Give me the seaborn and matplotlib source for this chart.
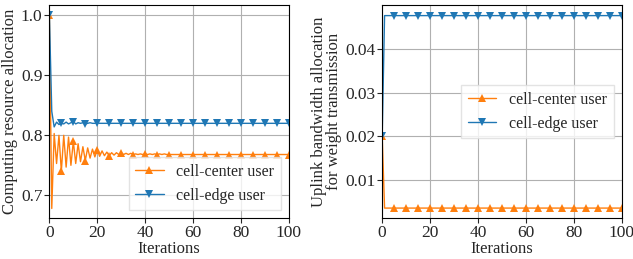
import numpy as np
import pandas as pd
import matplotlib
matplotlib.use("Agg")
import matplotlib.pyplot as plt
import seaborn as sns

sns.set_style("ticks")
plt.rcParams['font.family'] = ['Liberation Serif', 'DejaVu Serif']
plt.rcParams['font.size'] = 12
plt.rcParams['mathtext.fontset'] = 'stix'

iterations = list(range(101))

# computing resource allocation
comp_center = [1.0, 0.678, 0.803, 0.753, 0.800, 0.740, 0.800, 0.747, 0.797, 0.750,
               0.790, 0.753, 0.786, 0.756, 0.781, 0.758, 0.779, 0.762, 0.777, 0.764,
               0.776, 0.765, 0.774, 0.766, 0.772, 0.766, 0.771, 0.767, 0.771, 0.768,
               0.771, 0.768, 0.770, 0.768, 0.770, 0.768, 0.769, 0.768, 0.769, 0.768,
               0.769, 0.768, 0.769, 0.768, 0.769, 0.768, 0.769, 0.768, 0.769, 0.768,
               0.768, 0.768, 0.768, 0.768, 0.768, 0.768, 0.768, 0.768, 0.768, 0.768,
               0.768, 0.768, 0.768, 0.768, 0.768, 0.768, 0.768, 0.768, 0.768, 0.768,
               0.768, 0.768, 0.768, 0.768, 0.768, 0.768, 0.768, 0.768, 0.768, 0.768,
               0.768, 0.768, 0.768, 0.768, 0.768, 0.768, 0.768, 0.768, 0.768, 0.768,
               0.768, 0.768, 0.768, 0.768, 0.768, 0.768, 0.768, 0.768, 0.768, 0.768,
               0.768]
comp_edge = [1.0, 0.840, 0.814, 0.822, 0.818, 0.820, 0.819, 0.822, 0.819, 0.821,
             0.823, 0.819, 0.821, 0.820, 0.821, 0.819, 0.820, 0.821, 0.820, 0.820,
             0.821, 0.820, 0.820, 0.820, 0.820, 0.820, 0.820, 0.820, 0.820, 0.820,
             0.820, 0.820, 0.820, 0.820, 0.820, 0.820, 0.820, 0.820, 0.820, 0.820,
             0.820, 0.820, 0.820, 0.820, 0.820, 0.820, 0.820, 0.820, 0.820, 0.820,
             0.820, 0.820, 0.820, 0.820, 0.820, 0.820, 0.820, 0.820, 0.820, 0.820,
             0.820, 0.820, 0.820, 0.820, 0.820, 0.820, 0.820, 0.820, 0.820, 0.820,
             0.820, 0.820, 0.820, 0.820, 0.820, 0.820, 0.820, 0.820, 0.820, 0.820,
             0.820, 0.820, 0.820, 0.820, 0.820, 0.820, 0.820, 0.820, 0.820, 0.820,
             0.820, 0.820, 0.820, 0.820, 0.820, 0.820, 0.820, 0.820, 0.820, 0.820,
             0.820]

# uplink bandwidth allocation
bw_center = [0.020] + [0.0035] * 100
bw_edge = [0.020] + [0.0478] * 100

orange = '#ff7f0e'
blue = '#1f77b4'

fig, axes = plt.subplots(1, 2, figsize=(6.33, 2.59), dpi=100)
fig.subplots_adjust(left=0.078, right=0.982, bottom=0.158, top=0.98, wspace=0.39)

def draw(ax, center, edge):
    sns.lineplot(x=iterations, y=center, ax=ax, color=orange, marker='^',
                 markevery=5, markersize=5.5, linewidth=1, markeredgewidth=0,
                 label='cell-center user')
    sns.lineplot(x=iterations, y=edge, ax=ax, color=blue, marker='v',
                 markevery=5, markersize=5.5, linewidth=1, markeredgewidth=0,
                 label='cell-edge user')
    ax.set_xlim(0, 100)
    ax.set_xticks([0, 20, 40, 60, 80, 100])
    ax.set_xlabel('Iterations', labelpad=0)
    ax.grid(True, color='#b0b0b0', linewidth=0.8)
    ax.tick_params(labelsize=12.5, length=3.5, width=0.8, pad=1.5)
    for s in ax.spines.values():
        s.set_linewidth(0.8)
        s.set_color('black')

ax = axes[0]
draw(ax, comp_center, comp_edge)
ax.set_ylim(0.662, 1.017)
ax.set_yticks([0.7, 0.8, 0.9, 1.0])
ax.set_ylabel('Computing resource allocation', labelpad=2)
ax.legend(loc='lower right', fontsize=11.5, fancybox=False, framealpha=0.8,
          edgecolor='#dddddd', handlelength=1.8)

ax = axes[1]
draw(ax, bw_center, bw_edge)
ax.set_ylim(0.0012, 0.0502)
ax.set_yticks([0.01, 0.02, 0.03, 0.04])
ax.set_ylabel('Uplink bandwidth allocation\nfor weight transmission', labelpad=2,
              linespacing=0.95)
ax.legend(loc='center right', fontsize=11.5, fancybox=False, framealpha=0.8,
          edgecolor='#dddddd', handlelength=1.8)

fig.savefig('out.png', dpi=100)
